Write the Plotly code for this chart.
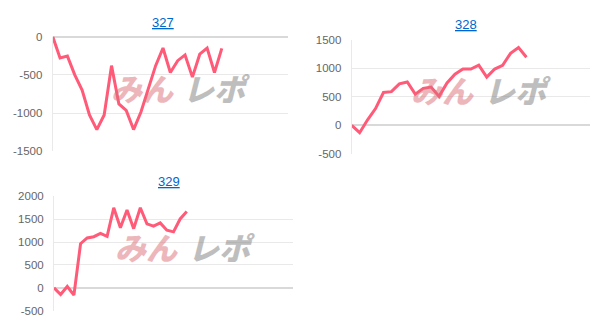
import plotly.graph_objects as go

W, H = 610, 335

titles = ["327", "328", "329"]
s327 = [0, -280, -255, -500, -700, -1025, -1215, -1025, -380, -880, -965, -1215,
        -985, -670, -380, -150, -470, -315, -240, -530, -230, -150, -470, -155]
s328 = [0, -130, 96, 293, 575, 590, 727, 760, 546, 648, 670, 507, 744, 896,
        986, 986, 1053, 845, 986, 1053, 1262, 1363, 1194]
s329 = [0, -148, 28, -160, 963, 1088, 1116, 1187, 1123, 1748, 1313, 1699, 1292,
        1748, 1397, 1348, 1418, 1257, 1222, 1503, 1664]
series = [s327, s328, s329]
slots = [32, 30, 36]            # number of x intervals per panel
yranges = [(-1500, 0), (-500, 1500), (-500, 2000)]
yticks = [[-1500, -1000, -500, 0],
          [-500, 0, 500, 1000, 1500],
          [-500, 0, 500, 1000, 1500, 2000]]

# pixel boxes: (left, right, top, bottom)
boxes = [(52.7, 288, 31.7, 150.8), (351.7, 590, 35, 153.3), (54, 293, 197.3, 316)]
title_pos = [(163, 17), (466, 19), (169, 182)]
wm_centers = [(142, 85), (442, 87), (146, 249)]
wm_gray_x = [216, 517, 221]

LINE = "#ff5a78"
GRID = "#e9e9e9"

fig = go.Figure()
layout = dict(width=W, height=H, margin=dict(l=0, r=0, t=0, b=0),
              paper_bgcolor="white", plot_bgcolor="white", showlegend=False,
              font=dict(family="Liberation Sans, Arial, sans-serif", size=11, color="#666"))
annotations = []
for i, (vals, box) in enumerate(zip(series, boxes)):
    n = i + 1
    xa = "x" if n == 1 else f"x{n}"
    ya = "y" if n == 1 else f"y{n}"
    l, r, t, b = box
    wx, wy = wm_centers[i]
    # watermark (below the line: drawn as annotations, semi-transparent)
    annotations.append(dict(
        x=wx / W, y=1 - wy / H, xref="paper", yref="paper", showarrow=False,
        text="<i>みん</i>", opacity=0.5,
        font=dict(size=31, color="#dc6f78", family="Noto Sans CJK JP", weight=900),
        xanchor="center", yanchor="middle"))
    annotations.append(dict(
        x=wm_gray_x[i] / W, y=1 - wy / H, xref="paper", yref="paper", showarrow=False,
        text="<i>レポ</i>", opacity=0.55,
        font=dict(size=31, color="#8a8a8a", family="Noto Sans CJK JP", weight=900),
        xanchor="center", yanchor="middle"))
    fig.add_trace(go.Scatter(x=list(range(len(vals))), y=vals, mode="lines",
                             line=dict(color=LINE, width=3), xaxis=xa, yaxis=ya,
                             hoverinfo="skip"))
    layout[f"xaxis{'' if n == 1 else n}"] = dict(
        domain=[l / W, r / W], range=[0, slots[i]], showticklabels=False,
        showgrid=False, zeroline=False, showline=False, fixedrange=True,
        anchor=ya)
    layout[f"yaxis{'' if n == 1 else n}"] = dict(
        domain=[1 - b / H, 1 - t / H], range=list(yranges[i]),
        tickvals=yticks[i], ticktext=[str(v) for v in yticks[i]],
        showgrid=True, gridcolor=GRID, gridwidth=1, zeroline=True,
        zerolinecolor="#d9d9d9", zerolinewidth=2, showline=True, linecolor=GRID,
        linewidth=1, ticks="", ticklabelstandoff=7, anchor=xa,
        tickfont=dict(size=11.5, color="#666"))
    tx, ty = title_pos[i]
    annotations.append(dict(
        x=tx / W, y=1 - ty / H, xref="paper", yref="paper", showarrow=False,
        text=f"<span style='text-decoration:underline'>{titles[i]}</span>",
        font=dict(size=13, color="#0066cc", family="Liberation Sans, Arial, sans-serif"),
        xanchor="center", yanchor="middle"))

layout["annotations"] = annotations
fig.update_layout(**layout)
fig.write_html("out.html")
